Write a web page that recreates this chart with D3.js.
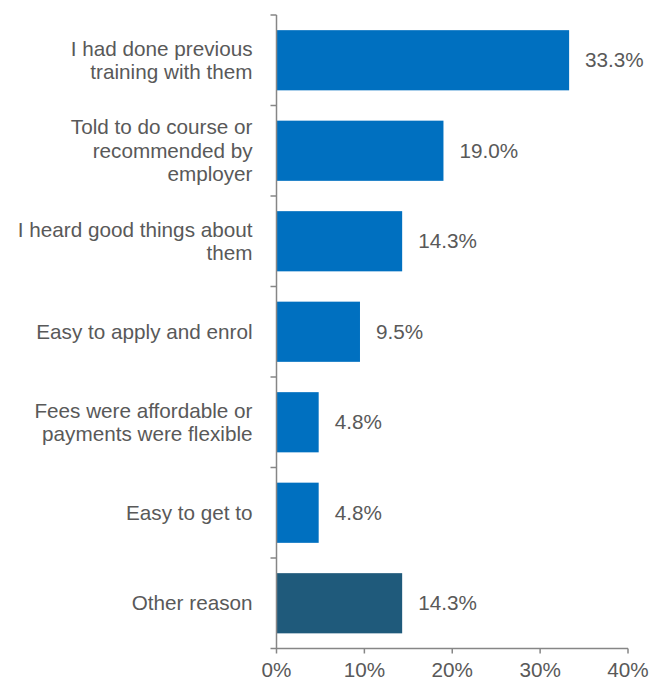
<!DOCTYPE html>
<html><head><meta charset="utf-8">
<script src="https://cdn.jsdelivr.net/npm/d3@7"></script>
<style>body{margin:0;background:#fff;}svg{display:block;}</style>
</head><body>
<svg id="c" width="654" height="683"></svg>
<script>
const categories = [
  ["I had done previous", "training with them"],
  ["Told to do course or", "recommended by", "employer"],
  ["I heard good things about", "them"],
  ["Easy to apply and enrol"],
  ["Fees were affordable or", "payments were flexible"],
  ["Easy to get to"],
  ["Other reason"]
];
const values = [33.3, 19.0, 14.3, 9.5, 4.8, 4.8, 14.3];
const barColors = ["#0070C0","#0070C0","#0070C0","#0070C0","#0070C0","#0070C0","#1F5A7B"];
const xTicks = [0, 10, 20, 30, 40];

(function(){
const svg = d3.select("#c");
const pl = 276.5, pr = 628, pt = 15, pb = 648.5;
const ids = categories.map((d,i)=>i);
const y = d3.scaleBand().domain(ids).range([pt, pb]).paddingInner(0.335).paddingOuter(0.1675);
const x = d3.scaleLinear().domain([0, 40]).range([pl, pr]);
const txt = "#595959", axisCol = "#868686";
const font = "Liberation Sans, Arial, sans-serif";
const fs = 20.7;

svg.selectAll("rect.bar").data(values).join("rect")
  .attr("x", x(0)).attr("y", (d,i)=>y(i))
  .attr("width", d=>x(d)-x(0)).attr("height", y.bandwidth())
  .attr("fill", (d,i)=>barColors[i]);

svg.selectAll("text.val").data(values).join("text")
  .attr("x", d=>x(d)+16).attr("y", (d,i)=>y(i)+y.bandwidth()/2)
  .attr("dy","0.35em").attr("font-family", font).attr("font-size", fs).attr("fill", txt)
  .text(d=>d.toFixed(1)+"%");

const ya = svg.append("g");
ya.append("line").attr("x1",pl).attr("x2",pl).attr("y1",pt).attr("y2",pb).attr("stroke",axisCol).attr("stroke-width",1.5);
const step = y.step();
d3.range(categories.length).forEach(i=>{
  const ty = pt + i*step;
  ya.append("line").attr("x1",pl-6).attr("x2",pl).attr("y1",ty).attr("y2",ty).attr("stroke",axisCol).attr("stroke-width",1.5);
});
categories.forEach((lines,i)=>{
  const cy = y(i)+y.bandwidth()/2;
  const lh = 23.5;
  const t = svg.append("text").attr("font-family",font).attr("font-size",fs).attr("fill",txt).attr("text-anchor","end");
  lines.forEach((l,j)=>{
    t.append("tspan").attr("x", pl-24).attr("y", cy + (j-(lines.length-1)/2)*lh).attr("dy","0.35em").text(l);
  });
});

const xa = svg.append("g");
xa.append("line").attr("x1",pl-6).attr("x2",pr).attr("y1",pb).attr("y2",pb).attr("stroke",axisCol).attr("stroke-width",1.5);
xTicks.forEach(v=>{
  xa.append("line").attr("x1",x(v)).attr("x2",x(v)).attr("y1",pb).attr("y2",pb+5).attr("stroke",axisCol).attr("stroke-width",1.5);
  xa.append("text").attr("x",x(v)).attr("y",pb+28).attr("text-anchor","middle")
    .attr("font-family",font).attr("font-size",fs).attr("fill",txt).text(v+"%");
});
})();
</script>
</body></html>
